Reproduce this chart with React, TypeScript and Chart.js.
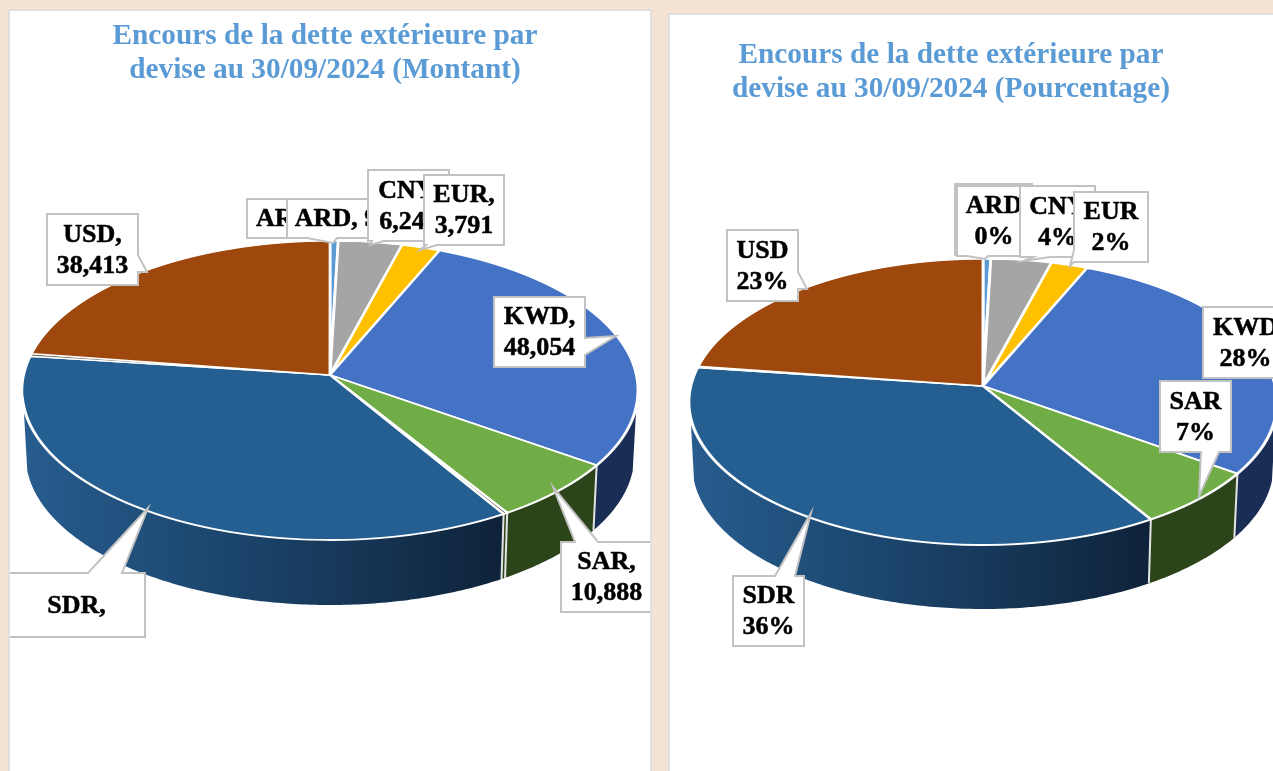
import React, { useEffect, useRef } from "react";
import { Chart, registerables } from "chart.js";

Chart.register(...registerables);

const FONT = '"Liberation Serif"';

// Data
const leftCategories = ["ARD", "CNY", "EUR", "KWD", "SAR", "Autres", "SDR", "ARE", "USD"];
const leftValues = [800, 6246, 3791, 48054, 10888, 350, 60500, 500, 38413];
const leftColors = ["#5b9bd5", "#a5a5a5", "#ffc000", "#4472c4", "#70ad47", "#3c4a30", "#255e91", "#7d7068", "#9e480e"];

const rightCategories = ["ARD", "CNY", "EUR", "KWD", "SAR", "SDR", "ARE", "USD"];
const rightValues = [800, 6246, 3791, 48054, 10888, 60500, 250, 38413];
const rightColors = ["#5b9bd5", "#a5a5a5", "#ffc000", "#4472c4", "#70ad47", "#255e91", "#7d7068", "#9e480e"];

const leftTitle = ["Encours de la dette extérieure par", "devise au 30/09/2024 (Montant)"];
const rightTitle = ["Encours de la dette extérieure par", "devise au 30/09/2024 (Pourcentage)"];

const wallColors: Record<string, string> = {
  KWD: "#1a2d54",
  SAR: "#2c441a",
  Autres: "#2c441a",
};

type Wedge = { side: "top" | "right" | "bottom" | "left"; base: [number, number]; tip: [number, number] };
type Callout = { lines: string[]; box: [number, number, number, number]; wedge?: Wedge };

const leftCallouts: Callout[] = [
  { lines: ["ARE, 500"], box: [247, 199, 372, 238] },
  { lines: ["ARD, 985"], box: [287, 199, 411, 238], wedge: { side: "bottom", base: [307, 337], tip: [333, 243] } },
  { lines: ["CNY,", "6,246"], box: [368, 170, 449, 241], wedge: { side: "bottom", base: [372, 384], tip: [370, 245] } },
  { lines: ["EUR,", "3,791"], box: [424, 175, 504, 245], wedge: { side: "bottom", base: [426, 437], tip: [420, 250] } },
  { lines: ["KWD,", "48,054"], box: [494, 297, 585, 367], wedge: { side: "right", base: [338, 355], tip: [616, 336] } },
  { lines: ["SAR,", "10,888"], box: [561, 542, 652, 612], wedge: { side: "top", base: [575, 598], tip: [553, 487] } },
  { lines: ["SDR,"], box: [8, 573, 145, 637], wedge: { side: "top", base: [88, 122], tip: [148, 508] } },
  { lines: ["USD,", "38,413"], box: [47, 214, 138, 285], wedge: { side: "right", base: [255, 272], tip: [147, 272] } },
];

const rightCallouts: Callout[] = [
  { lines: ["ARE", "0%"], box: [955, 184, 1032, 255] },
  { lines: ["ARD", "0%"], box: [957, 186, 1031, 256], wedge: { side: "bottom", base: [967, 988], tip: [985, 259] } },
  { lines: ["CNY", "4%"], box: [1020, 186, 1095, 257], wedge: { side: "bottom", base: [1033, 1050], tip: [1023, 261] } },
  { lines: ["EUR", "2%"], box: [1074, 192, 1148, 262], wedge: { side: "left", base: [250, 262], tip: [1070, 266] } },
  { lines: ["KWD", "28%"], box: [1203, 307, 1288, 378] },
  { lines: ["SAR", "7%"], box: [1160, 381, 1231, 452], wedge: { side: "bottom", base: [1201, 1219], tip: [1199, 496] } },
  { lines: ["SDR", "36%"], box: [733, 576, 804, 646], wedge: { side: "top", base: [775, 795], tip: [811, 513] } },
  { lines: ["USD", "23%"], box: [727, 230, 798, 301], wedge: { side: "right", base: [272, 289], tip: [807, 289] } },
];

type PieCfg = {
  categories: string[];
  values: number[];
  colors: string[];
  title: string[];
  callouts: Callout[];
  panel: { x: number; y: number; w: number; h: number };
  titlePadTop: number;
  titleShift: number;
  apex: [number, number];
  back: number; // apparent radius towards the back
  front: number; // apparent radius towards the front
  wide: number; // apparent half width
  depth: number;
};

function drawCallout(ctx: CanvasRenderingContext2D, c: Callout, ox: number, oy: number) {
  const [x1, y1, x2, y2] = c.box.map((n, i) => n - (i % 2 === 0 ? ox : oy));
  const w = c.wedge;
  const tip = w ? ([w.tip[0] - ox, w.tip[1] - oy] as const) : null;
  ctx.beginPath();
  ctx.moveTo(x1, y1);
  if (w && w.side === "top") {
    ctx.lineTo(w.base[0] - ox, y1);
    ctx.lineTo(tip![0], tip![1]);
    ctx.lineTo(w.base[1] - ox, y1);
  }
  ctx.lineTo(x2, y1);
  if (w && w.side === "right") {
    ctx.lineTo(x2, w.base[0] - oy);
    ctx.lineTo(tip![0], tip![1]);
    ctx.lineTo(x2, w.base[1] - oy);
  }
  ctx.lineTo(x2, y2);
  if (w && w.side === "bottom") {
    ctx.lineTo(w.base[1] - ox, y2);
    ctx.lineTo(tip![0], tip![1]);
    ctx.lineTo(w.base[0] - ox, y2);
  }
  ctx.lineTo(x1, y2);
  if (w && w.side === "left") {
    ctx.lineTo(x1, w.base[1] - oy);
    ctx.lineTo(tip![0], tip![1]);
    ctx.lineTo(x1, w.base[0] - oy);
  }
  ctx.closePath();
  ctx.fillStyle = "#ffffff";
  ctx.fill();
  ctx.lineWidth = 2;
  ctx.strokeStyle = "#c2c2c2";
  ctx.lineJoin = "miter";
  ctx.stroke();
  ctx.fillStyle = "#000000";
  ctx.strokeStyle = "#000000";
  ctx.lineWidth = 0.5;
  ctx.lineJoin = "round";
  ctx.font = `bold 26px ${FONT}`;
  ctx.textAlign = "center";
  ctx.textBaseline = "middle";
  const cx = (x1 + x2) / 2;
  const cy = (y1 + y2) / 2;
  const lh = 31;
  c.lines.forEach((t, i) => {
    const ty = cy + (i - (c.lines.length - 1) / 2) * lh + 1;
    ctx.fillText(t, cx, ty);
    ctx.strokeText(t, cx, ty);
  });
}

function PieChart({ cfg }: { cfg: PieCfg }) {
  const ref = useRef<HTMLCanvasElement>(null);
  useEffect(() => {
    const canvas = ref.current!;
    const { panel } = cfg;
    const cx = cfg.apex[0] - panel.x;
    const cy = cfg.apex[1] - panel.y;
    // perspective of a flat disc seen from the front
    const k = (cfg.front - cfg.back) / (cfg.front + cfg.back);
    const A = cfg.front * (1 - k);
    const R = cfg.wide * Math.sqrt(1 - k * k);
    const project = (a: number): [number, number] => {
      const u = Math.cos(a);
      const v = Math.sin(a);
      const s = 1 / (1 - k * v);
      return [cx + R * u * s, cy + A * v * s];
    };
    const lower = (p: [number, number]): [number, number] => [cx + (p[0] - cx) * 0.988, p[1] + cfg.depth];

    const solid = {
      id: "solid",
      beforeDatasetDraw(chart: any) {
        const ctx: CanvasRenderingContext2D = chart.ctx;
        const arcs = chart.getDatasetMeta(0).data as any[];
        const vMin = k + 0.1;
        const aStart = Math.asin(vMin);
        const aEnd = Math.PI - aStart;
        const norm = (a: number) => {
          let r = a % (2 * Math.PI);
          if (r < -Math.PI / 2) r += 2 * Math.PI;
          return r;
        };
        const grad = ctx.createLinearGradient(cx - cfg.wide, 0, cx + cfg.wide * 0.58, 0);
        grad.addColorStop(0, "#285d8f");
        grad.addColorStop(0.3, "#1e4c76");
        grad.addColorStop(0.6, "#183b5e");
        grad.addColorStop(1, "#0e2238");
        // side wall of each slice
        arcs.forEach((arc, i) => {
          const s = Math.max(norm(arc.startAngle), aStart);
          const e = Math.min(norm(arc.startAngle) + (arc.endAngle - arc.startAngle), aEnd);
          if (e <= s) return;
          const steps = Math.max(2, Math.ceil((e - s) * 80));
          const ring: [number, number][] = [];
          for (let n = 0; n <= steps; n++) ring.push(project(s + ((e - s) * n) / steps));
          ctx.beginPath();
          ring.forEach((p, n) => (n === 0 ? ctx.moveTo(p[0], p[1]) : ctx.lineTo(p[0], p[1])));
          [...ring].reverse().forEach((p) => {
            const q = lower(p);
            ctx.lineTo(q[0], q[1]);
          });
          ctx.closePath();
          ctx.fillStyle = wallColors[cfg.categories[i]] ?? grad;
          ctx.fill();
        });
        // separators on the wall
        arcs.forEach((arc) => {
          const a = norm(arc.startAngle);
          if (a <= aStart || a >= aEnd) return;
          const p = project(a);
          const q = lower(p);
          ctx.beginPath();
          ctx.moveTo(p[0], p[1]);
          ctx.lineTo(q[0], q[1]);
          ctx.lineWidth = 2;
          ctx.strokeStyle = "#e4e4e4";
          ctx.stroke();
        });
        // the top face: each pixel row gets the library's arcs under its own scale
        const r = arcs[0].outerRadius as number;
        const top = Math.floor(cy - A / (1 + k)) - 2;
        const bottom = Math.ceil(cy + A / (1 - k)) + 2;
        for (let row = top; row <= bottom; row++) {
          const yp = row + 0.5 - cy;
          const v = yp / (A + k * yp);
          const s = 1 / (1 - k * v);
          ctx.save();
          ctx.beginPath();
          ctx.rect(0, row, canvas.width, 1);
          ctx.clip();
          ctx.translate(cx, row + 0.5);
          ctx.scale((R * s) / r, (A * s * s) / r);
          ctx.translate(-arcs[0].x, -(arcs[0].y + v * r));
          arcs.forEach((arc) => arc.draw(ctx));
          ctx.restore();
        }
        return false;
      },
      afterDatasetsDraw(chart: any) {
        cfg.callouts.forEach((c) => drawCallout(chart.ctx, c, panel.x, panel.y));
      },
    };

    const chart = new Chart(canvas, {
      type: "pie",
      data: {
        labels: cfg.categories,
        datasets: [
          {
            data: cfg.values,
            backgroundColor: cfg.colors,
            borderColor: "#ffffff",
            borderWidth: 3,
          },
        ],
      },
      options: {
        responsive: false,
        animation: false,
        events: [],
        layout: { padding: { right: cfg.titleShift } },
        plugins: {
          legend: { display: false },
          tooltip: { enabled: false },
          title: {
            display: true,
            text: cfg.title,
            color: "#5b9bd5",
            font: { family: FONT, size: 29.3, weight: "bold", lineHeight: 1.16 },
            padding: { top: cfg.titlePadTop, bottom: 4 },
          },
        },
      },
      plugins: [solid as any],
    });
    return () => chart.destroy();
  }, [cfg]);
  const { panel } = cfg;
  return (
    <canvas
      ref={ref}
      width={panel.w}
      height={panel.h}
      style={{ position: "absolute", left: panel.x, top: panel.y, width: panel.w, height: panel.h, background: "#ffffff", display: "block" }}
    />
  );
}

const leftCfg: PieCfg = {
  categories: leftCategories,
  values: leftValues,
  colors: leftColors,
  title: leftTitle,
  callouts: leftCallouts,
  panel: { x: 10, y: 11, w: 640, h: 760 },
  titlePadTop: 8,
  titleShift: 10,
  apex: [330, 375],
  back: 134,
  front: 165,
  wide: 308,
  depth: 65,
};

const rightCfg: PieCfg = {
  categories: rightCategories,
  values: rightValues,
  colors: rightColors,
  title: rightTitle,
  callouts: rightCallouts,
  panel: { x: 670, y: 15, w: 603, h: 756 },
  titlePadTop: 23,
  titleShift: 41,
  apex: [983, 386],
  back: 127,
  front: 159,
  wide: 294,
  depth: 64,
};

export default function App() {
  return (
    <div style={{ position: "fixed", left: 0, top: 0, width: 1273, height: 771, overflow: "hidden", background: "#f5e3d3" }}>
      <div style={{ position: "absolute", left: 8, top: 9, width: 644, height: 770, background: "#e0e0e0" }} />
      <div style={{ position: "absolute", left: 668, top: 13, width: 620, height: 770, background: "#e0e0e0" }} />
      <PieChart cfg={leftCfg} />
      <PieChart cfg={rightCfg} />
    </div>
  );
}
